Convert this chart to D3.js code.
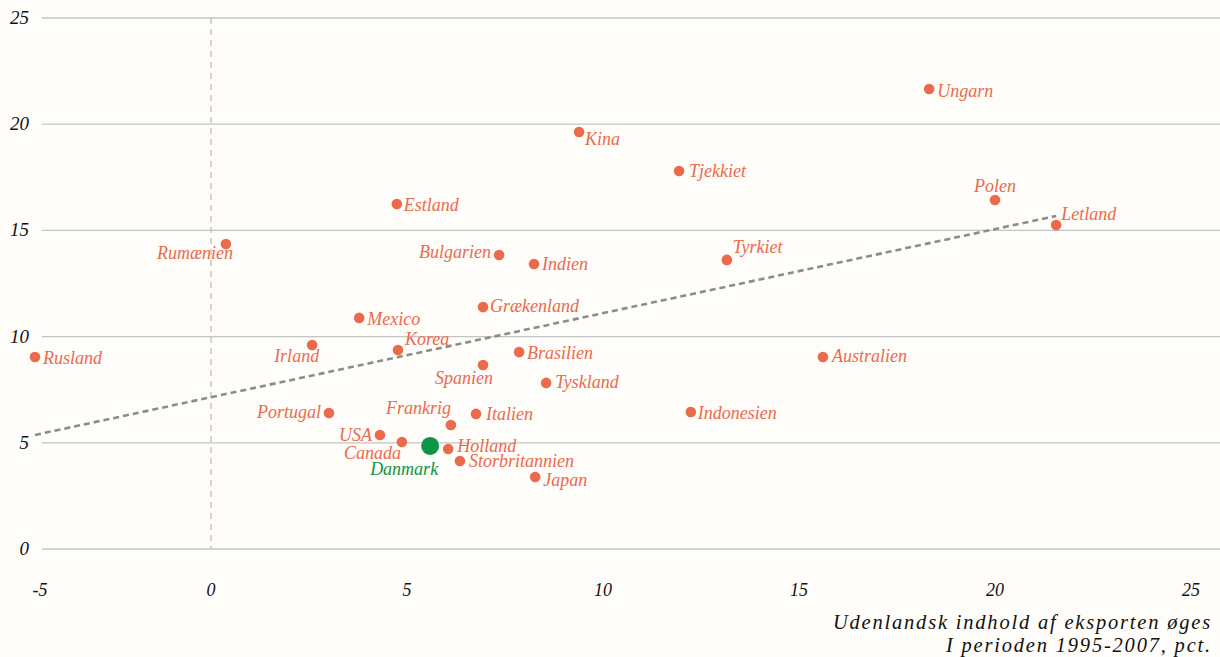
<!doctype html>
<html>
<head>
<meta charset="utf-8">
<script src="https://cdnjs.cloudflare.com/ajax/libs/d3/7.8.5/d3.min.js"></script>
<style>
  body { margin: 0; background-color: #fefdf9; }
  svg text { font-family: "Liberation Serif", serif; font-style: italic; }
</style>
</head>
<body>
<div id="chart-area"></div>
<script>
  // Data
  var countries = ["Ungarn", "Kina", "Tjekkiet", "Polen", "Letland", "Estland", "Rumænien",
    "Bulgarien", "Indien", "Tyrkiet", "Grækenland", "Mexico", "Irland", "Korea", "Rusland",
    "Brasilien", "Australien", "Spanien", "Tyskland", "Portugal", "Italien", "Indonesien",
    "Frankrig", "USA", "Canada", "Danmark", "Holland", "Storbritannien", "Japan"];
  var foreignContent = [18.32, 9.39, 11.94, 20.0, 21.56, 4.74, 0.38,
    7.35, 8.24, 13.16, 6.94, 3.78, 2.58, 4.77, -4.49,
    7.86, 15.61, 6.94, 8.55, 3.01, 6.76, 12.24,
    6.12, 4.31, 4.87, 5.59, 6.05, 6.35, 8.27];
  var exportGrowth = [21.66, 19.63, 17.80, 16.43, 15.25, 16.24, 14.36,
    13.84, 13.42, 13.61, 11.39, 10.88, 9.60, 9.37, 9.04,
    9.27, 9.04, 8.66, 7.82, 6.40, 6.36, 6.45,
    5.84, 5.37, 5.04, 4.85, 4.71, 4.14, 3.39];
  var trendX = [-4.49, 21.56];
  var trendY = [5.37, 15.68];
  var xTicks = [-5, 0, 5, 10, 15, 20, 25];
  var yTicks = [0, 5, 10, 15, 20, 25];
  var highlight = "Danmark";

  // Label placement per country: [dx, dy, anchor]
  var labelPos = {
    "Ungarn": [8, 8, "start"], "Kina": [6, 13, "start"], "Tjekkiet": [10, 6, "start"],
    "Polen": [0, -8, "middle"], "Letland": [5, -5, "start"], "Estland": [7, 7, "start"],
    "Rumænien": [7, 15, "end"], "Bulgarien": [-8, 3, "end"], "Indien": [8, 6, "start"],
    "Tyrkiet": [6, -7, "start"], "Grækenland": [7, 5, "start"], "Mexico": [8, 7, "start"],
    "Irland": [7, 17, "end"], "Korea": [7, -5, "start"], "Rusland": [8, 7, "start"],
    "Brasilien": [8, 7, "start"], "Australien": [9, 5, "start"], "Spanien": [10, 19, "end"],
    "Tyskland": [9, 5, "start"], "Portugal": [-8, 5, "end"], "Italien": [10, 6, "start"],
    "Indonesien": [7, 7, "start"], "Frankrig": [0, -11, "end"], "USA": [-8, 6, "end"],
    "Canada": [-1, 17, "end"], "Danmark": [8, 29, "end"], "Holland": [9, 3, "start"],
    "Storbritannien": [9, 6, "start"], "Japan": [8, 9, "start"]
  };

  var data = countries.map(function(c, i) {
    return { name: c, x: foreignContent[i], y: exportGrowth[i] };
  });

  var width = 1220, height = 657;
  var orange = "#ec6a4c", green = "#0f9346";

  var svg = d3.select("#chart-area").append("svg")
    .attr("width", width)
    .attr("height", height);

  // Scales
  var x = d3.scaleLinear().domain([0, 20]).range([211, 995]);
  var y = d3.scaleLinear().domain([0, 25]).range([549, 18]);

  // Horizontal gridlines
  svg.append("g").selectAll("line")
    .data(yTicks).enter().append("line")
    .attr("x1", 42).attr("x2", width)
    .attr("y1", function(d) { return y(d); })
    .attr("y2", function(d) { return y(d); })
    .attr("stroke", "#c4c4c4")
    .attr("stroke-width", 1.3);

  // Y tick labels
  svg.append("g").selectAll("text")
    .data(yTicks).enter().append("text")
    .attr("x", 29)
    .attr("y", function(d) { return y(d) + 6; })
    .attr("text-anchor", "end")
    .attr("font-size", "19px")
    .attr("fill", "#111")
    .text(function(d) { return d; });

  // X tick labels
  svg.append("g").selectAll("text")
    .data(xTicks).enter().append("text")
    .attr("x", function(d) { return Math.max(x(d), 40); })
    .attr("y", 596)
    .attr("text-anchor", "middle")
    .attr("font-size", "18px")
    .attr("fill", "#111")
    .text(function(d) { return d; });

  // Zero line
  svg.append("line")
    .attr("x1", x(0)).attr("x2", x(0))
    .attr("y1", y(25)).attr("y2", y(0))
    .attr("stroke", "#bdbdbd")
    .attr("stroke-width", 1.3)
    .attr("stroke-dasharray", "6,5");

  // Trend line
  svg.append("line")
    .attr("x1", x(trendX[0])).attr("y1", y(trendY[0]))
    .attr("x2", x(trendX[1])).attr("y2", y(trendY[1]))
    .attr("stroke", "#8c8c8c")
    .attr("stroke-width", 2.6)
    .attr("stroke-dasharray", "6,4");

  // Points
  svg.append("g").selectAll("circle")
    .data(data).enter().append("circle")
    .attr("cx", function(d) { return x(d.x); })
    .attr("cy", function(d) { return y(d.y); })
    .attr("r", function(d) { return d.name === highlight ? 9 : 5.3; })
    .attr("fill", function(d) { return d.name === highlight ? green : orange; });

  // Point labels
  svg.append("g").selectAll("text")
    .data(data).enter().append("text")
    .attr("x", function(d) { return x(d.x) + labelPos[d.name][0]; })
    .attr("y", function(d) { return y(d.y) + labelPos[d.name][1]; })
    .attr("text-anchor", function(d) { return labelPos[d.name][2]; })
    .attr("font-size", "18px")
    .attr("fill", function(d) { return d.name === highlight ? green : orange; })
    .text(function(d) { return d.name; });

  // Axis title
  var title = svg.append("text")
    .attr("text-anchor", "end")
    .attr("font-size", "20.5px")
    .attr("fill", "#111")
    .attr("letter-spacing", "1.8px");
  title.append("tspan").attr("x", 1212).attr("y", 629).text("Udenlandsk indhold af eksporten øges");
  title.append("tspan").attr("x", 1212).attr("y", 652).text("I perioden 1995-2007, pct.");
</script>
</body>
</html>
